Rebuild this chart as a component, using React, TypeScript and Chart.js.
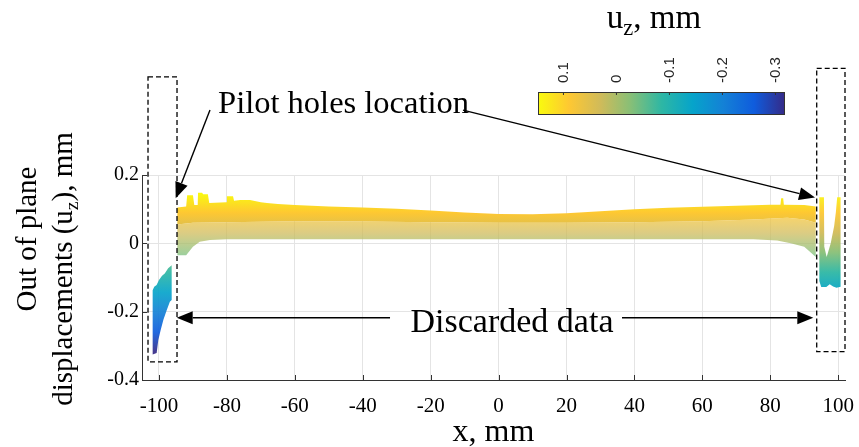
import React, { useEffect, useRef } from 'react';
import { Chart, registerables } from 'chart.js';

Chart.register(...registerables);

// ---------- axis ticks ----------
const X_TICKS = [-100, -80, -60, -40, -20, 0, 20, 40, 60, 80, 100];
const Y_TICKS = [-0.4, -0.2, 0, 0.2];
const CB_TICKS = [0.1, 0, -0.1, -0.2, -0.3];
const C_MIN = -0.318;
const C_MAX = 0.148;

// ---------- main band ----------
const MAIN_TOP_X = [-94.6, -92.0, -91.7, -90.0, -89.6, -88.6, -88.5, -87.3, -87.0, -85.6, -85.2, -80.2, -80.0, -78.2, -77.9, -76.1, -73.2, -70, -68.2, -65, -60, -50, -40, -30, -20, -10, 0, 10, 20, 30, 40, 50, 60, 70, 80, 83.0, 83.2, 83.8, 84.0, 90, 93.4];
const MAIN_TOP_Y = [0.105, 0.108, 0.141, 0.141, 0.112, 0.112, 0.148, 0.148, 0.144, 0.144, 0.118, 0.12, 0.138, 0.138, 0.125, 0.127, 0.127, 0.12, 0.118, 0.115, 0.112, 0.108, 0.105, 0.101, 0.096, 0.09, 0.086, 0.085, 0.088, 0.094, 0.1, 0.104, 0.107, 0.11, 0.113, 0.113, 0.132, 0.132, 0.113, 0.112, 0.108];
const MAIN_DENSE_X = [-94.6, -90, -80, -60, -40, -20, 0, 20, 40, 60, 75, 85, 90, 93.4];
const MAIN_DENSE_Y = [0.055, 0.06, 0.062, 0.065, 0.064, 0.062, 0.06, 0.06, 0.062, 0.065, 0.07, 0.075, 0.07, 0.06];
const MAIN_SPARSE_X = [-94.6, -92, -90, -88, -85, -80, -60, -40, -20, 0, 20, 40, 60, 75, 82, 86, 90, 93.4];
const MAIN_SPARSE_Y = [-0.035, -0.035, -0.01, 0.005, 0.01, 0.012, 0.012, 0.012, 0.012, 0.012, 0.012, 0.012, 0.012, 0.012, 0.008, 0.0, -0.01, -0.04];

// ---------- discarded data, left edge ----------
const LEFT_TOP_X = [-101.86, -101.4, -100.7, -100.0, -99.1, -98.3, -97.3, -96.26];
const LEFT_TOP_Y = [-0.137, -0.127, -0.122, -0.107, -0.095, -0.088, -0.073, -0.064];
const LEFT_BOTTOM_X = [-101.86, -100.68, -100.2, -99.5, -98.7, -97.7, -96.8, -96.26];
const LEFT_BOTTOM_Y = [-0.325, -0.321, -0.283, -0.254, -0.224, -0.195, -0.171, -0.166];

// ---------- discarded data, right edge ----------
const RIGHT_TOP_X = [94.44, 95.8, 95.9, 96.6, 97.8, 98.8, 99.3, 99.7, 100.7];
const RIGHT_TOP_Y = [0.135, 0.135, -0.01, -0.04, 0.0, 0.05, 0.09, 0.135, 0.135];
const RIGHT_BOTTOM_X = [94.44, 95.0, 96.5, 97.5, 98.5, 99.5, 100.7];
const RIGHT_BOTTOM_Y = [-0.11, -0.128, -0.128, -0.12, -0.126, -0.13, -0.127];

// ---------- annotations (data coordinates) ----------
const BOX_LEFT = { x0: -103.23, x1: -94.69, y0: 0.487, y1: -0.347 };
const BOX_RIGHT = { x0: 93.67, x1: 102.0, y0: 0.512, y1: -0.317 };
const PILOT_TEXT = { x: -82.6, y: 0.381 };
const PILOT_ARROWS = [
  { x0: -84.98, y0: 0.39, x1: -95.08, y1: 0.132 },
  { x0: -10.48, y0: 0.39, x1: 93.17, y1: 0.134 },
];
const DISCARD_TEXT = { x: 3.95, y: -0.259 };
const DISCARD_ARROWS = [
  { x0: -31.97, y0: -0.218, x1: -94.78, y1: -0.218 },
  { x0: 36.34, y0: -0.218, x1: 92.67, y1: -0.218 },
];

const PARULA = ['#352a87', '#0f5cdd', '#1481d6', '#06a4ca', '#2eb7a4', '#87bf77', '#d1bb59', '#fec832', '#f9fb0e'];
const SERIF = '"Liberation Serif", "Times New Roman", serif';
const SANS = '"Liberation Sans", Arial, sans-serif';

function withAlpha(hex: string, a: number) {
  const r = parseInt(hex.slice(1, 3), 16);
  const g = parseInt(hex.slice(3, 5), 16);
  const b = parseInt(hex.slice(5, 7), 16);
  return `rgba(${r},${g},${b},${a})`;
}

function addStops(g: CanvasGradient, alpha: number) {
  PARULA.forEach((c, i) => g.addColorStop(1 - i / (PARULA.length - 1), withAlpha(c, alpha)));
}

function vGrad(chart: any, alpha: number) {
  const y = chart.scales?.y;
  if (!y) return withAlpha(PARULA[6], alpha);
  const p0 = y.getPixelForValue(C_MAX);
  const p1 = y.getPixelForValue(C_MIN);
  if (!isFinite(p0) || !isFinite(p1) || p0 === p1) return withAlpha(PARULA[6], alpha);
  const g = chart.ctx.createLinearGradient(0, p0, 0, p1);
  addStops(g, alpha);
  return g;
}

function poly(tx: number[], ty: number[], bx: number[], by: number[]) {
  const top = tx.map((x, i) => ({ x, y: ty[i] }));
  const bot = bx.map((x, i) => ({ x, y: by[i] })).reverse();
  return [...top, ...bot];
}

function band(data: any[], alpha: number) {
  return {
    data,
    showLine: true,
    fill: 'shape',
    pointRadius: 0,
    pointHoverRadius: 0,
    borderWidth: 0,
    borderColor: 'transparent',
    backgroundColor: (c: any) => vGrad(c.chart, alpha),
  };
}

type Part = [string, boolean?];
function drawRich(ctx: CanvasRenderingContext2D, parts: Part[], x: number, y: number, size: number, align: 'left' | 'center') {
  const sub = size * 0.68;
  ctx.textAlign = 'left';
  ctx.textBaseline = 'alphabetic';
  const widths = parts.map(([t, s]) => {
    ctx.font = `${s ? sub : size}px ${SERIF}`;
    return ctx.measureText(t).width;
  });
  const total = widths.reduce((a, b) => a + b, 0);
  let cx = align === 'center' ? x - total / 2 : x;
  parts.forEach(([t, s], i) => {
    ctx.font = `${s ? sub : size}px ${SERIF}`;
    ctx.fillText(t, cx, s ? y + size * 0.2 : y);
    cx += widths[i];
  });
}

function arrow(ctx: CanvasRenderingContext2D, x0: number, y0: number, x1: number, y1: number) {
  const L = 16, W = 6.5;
  const ang = Math.atan2(y1 - y0, x1 - x0);
  const bx = x1 - L * Math.cos(ang), by = y1 - L * Math.sin(ang);
  ctx.beginPath();
  ctx.moveTo(x0, y0);
  ctx.lineTo(bx, by);
  ctx.stroke();
  ctx.beginPath();
  ctx.moveTo(x1, y1);
  ctx.lineTo(bx + W * Math.sin(ang), by - W * Math.cos(ang));
  ctx.lineTo(bx - W * Math.sin(ang), by + W * Math.cos(ang));
  ctx.closePath();
  ctx.fill();
}

const decor = {
  id: 'decor',
  afterDatasetsDraw(chart: any) {
    const { ctx, chartArea: a, scales: { x, y } } = chart;
    ctx.save();
    // inner tick marks
    ctx.strokeStyle = '#333';
    ctx.lineWidth = 1;
    X_TICKS.forEach((v) => {
      const px = Math.round(x.getPixelForValue(v)) + 0.5;
      ctx.beginPath();
      ctx.moveTo(px, a.bottom);
      ctx.lineTo(px, a.bottom - 5);
      ctx.stroke();
    });
    Y_TICKS.forEach((v) => {
      const py = Math.round(y.getPixelForValue(v)) + 0.5;
      ctx.beginPath();
      ctx.moveTo(a.left, py);
      ctx.lineTo(a.left + 5, py);
      ctx.stroke();
    });
    // dashed boxes
    ctx.strokeStyle = '#000';
    ctx.lineWidth = 1.3;
    ctx.setLineDash([5, 3]);
    [BOX_LEFT, BOX_RIGHT].forEach((b) => {
      const l = x.getPixelForValue(b.x0), r = x.getPixelForValue(b.x1);
      const t = y.getPixelForValue(b.y0), bt = y.getPixelForValue(b.y1);
      ctx.strokeRect(l, t, r - l, bt - t);
    });
    ctx.setLineDash([]);
    // arrows
    ctx.fillStyle = '#000';
    ctx.lineWidth = 1.4;
    [...PILOT_ARROWS, ...DISCARD_ARROWS].forEach((ar) => {
      arrow(ctx, x.getPixelForValue(ar.x0), y.getPixelForValue(ar.y0), x.getPixelForValue(ar.x1), y.getPixelForValue(ar.y1));
    });
    // annotation text
    ctx.fillStyle = '#000';
    drawRich(ctx, [['Pilot holes location']], x.getPixelForValue(PILOT_TEXT.x), y.getPixelForValue(PILOT_TEXT.y), 32.5, 'left');
    drawRich(ctx, [['Discarded data']], x.getPixelForValue(DISCARD_TEXT.x), y.getPixelForValue(DISCARD_TEXT.y), 34, 'center');
    ctx.restore();
  },
  afterDraw(chart: any) {
    const { ctx, chartArea: a } = chart;
    ctx.save();
    // colorbar
    const cbL = 538, cbR = 785, cbT = 92, cbB = 115;
    const g = ctx.createLinearGradient(cbL, 0, cbR, 0);
    addStops(g, 1);
    ctx.fillStyle = g;
    ctx.fillRect(cbL, cbT, cbR - cbL, cbB - cbT);
    ctx.strokeStyle = '#333';
    ctx.lineWidth = 1;
    ctx.strokeRect(cbL + 0.5, cbT + 0.5, cbR - cbL - 1, cbB - cbT - 1);
    ctx.fillStyle = '#262626';
    ctx.font = `15px ${SANS}`;
    CB_TICKS.forEach((v) => {
      const px = cbL + ((C_MAX - v) / (C_MAX - C_MIN)) * (cbR - cbL);
      ctx.beginPath();
      ctx.moveTo(px, cbT);
      ctx.lineTo(px, cbT + 3);
      ctx.stroke();
      ctx.save();
      ctx.translate(px, cbT - 9);
      ctx.rotate(-Math.PI / 2);
      ctx.textAlign = 'left';
      ctx.textBaseline = 'middle';
      ctx.fillText(String(v), 0, 0);
      ctx.restore();
    });
    ctx.fillStyle = '#000';
    drawRich(ctx, [['u'], ['z', true], [', mm']], 654, 28, 33, 'center');
    // x axis title
    drawRich(ctx, [['x, mm']], (a.left + a.right) / 2, 441, 32, 'center');
    // y axis title (two lines)
    const yTitle: Part[][] = [[['Out of plane']], [['displacements (u'], ['z', true], ['), mm']]];
    const bases = [36, 72];
    const centers = [239, 269];
    yTitle.forEach((parts, i) => {
      ctx.save();
      ctx.translate(bases[i], centers[i]);
      ctx.rotate(-Math.PI / 2);
      drawRich(ctx, parts, 0, 0, 29, 'center');
      ctx.restore();
    });
    ctx.restore();
  },
};

export default function App() {
  const ref = useRef<HTMLCanvasElement>(null);
  useEffect(() => {
    document.body.style.margin = '0';
    const canvas = ref.current;
    if (!canvas) return;
    const fmt = (v: number) => String(Number(v.toFixed(1)));
    const chart = new Chart(canvas, {
      type: 'scatter',
      data: {
        datasets: [
          band(poly(MAIN_DENSE_X, MAIN_DENSE_Y, MAIN_SPARSE_X, MAIN_SPARSE_Y), 0.75),
          band(poly(MAIN_TOP_X, MAIN_TOP_Y, MAIN_DENSE_X, MAIN_DENSE_Y), 1),
          band(poly(LEFT_TOP_X, LEFT_TOP_Y, LEFT_BOTTOM_X, LEFT_BOTTOM_Y), 0.92),
          band(poly(RIGHT_TOP_X, RIGHT_TOP_Y, RIGHT_BOTTOM_X, RIGHT_BOTTOM_Y), 0.95),
        ] as any,
      },
      options: {
        responsive: false,
        animation: false,
        devicePixelRatio: 1,
        events: [],
        layout: { padding: { left: 0, right: 14, top: 175, bottom: 0 } },
        plugins: { legend: { display: false }, tooltip: { enabled: false } },
        scales: {
          x: {
            type: 'linear',
            min: -105,
            max: 102,
            afterBuildTicks: (s: any) => { s.ticks = X_TICKS.map((value) => ({ value })); },
            afterFit: (s: any) => { s.height = 67; s.paddingLeft = 0; s.paddingRight = 0; },
            grid: { color: '#e4e4e4', drawTicks: false },
            border: { color: '#333', width: 1 },
            ticks: { color: '#000', padding: 14, maxRotation: 0, autoSkip: false, font: { family: SERIF, size: 21 }, callback: (v: any) => fmt(Number(v)) },
          },
          y: {
            type: 'linear',
            min: -0.4,
            max: 0.2,
            afterBuildTicks: (s: any) => { s.ticks = Y_TICKS.map((value) => ({ value })); },
            afterFit: (s: any) => { s.width = 142; s.paddingTop = 0; s.paddingBottom = 0; },
            grid: { color: '#e4e4e4', drawTicks: false },
            border: { color: '#333', width: 1 },
            ticks: { color: '#000', padding: 3, autoSkip: false, font: { family: SERIF, size: 20 }, callback: (v: any) => fmt(Number(v)) },
          },
        },
      } as any,
      plugins: [decor],
    });
    return () => chart.destroy();
  }, []);
  return (
    <div style={{ width: 859, height: 447 }}>
      <canvas ref={ref} width={859} height={447} style={{ display: 'block' }} />
    </div>
  );
}
